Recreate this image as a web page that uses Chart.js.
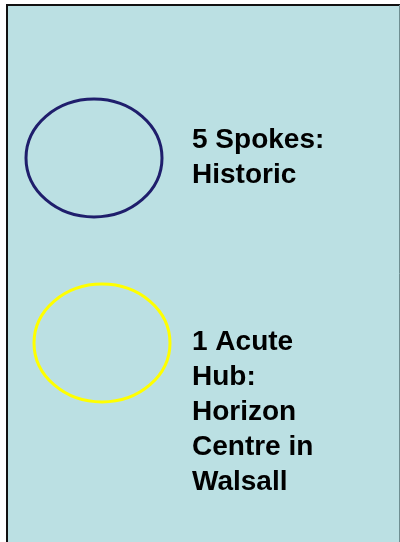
<!DOCTYPE html>
<html>
<head>
<meta charset="utf-8">
<script src="https://cdn.jsdelivr.net/npm/chart.js@4"></script>
<style>
  html, body { margin: 0; padding: 0; background: #fff; }
  #wrap { width: 400px; height: 542px; }
</style>
</head>
<body>
<div id="wrap"><canvas id="hubChart"></canvas></div>
<script>
// legend entries
const labels = [
    ['5 Spokes:', 'Historic'],
    ['1 Acute', 'Hub:', 'Horizon', 'Centre in', 'Walsall']
];
const xValues = [94, 102];
const yValues = [158, 343];
const colours = ['#1f1e6c', '#ffff00'];

// ellipse outline used as point style
const ellipse = (colour, rx, ry) => {
    const c = document.createElement('canvas');
    c.width = rx * 2 + 4;
    c.height = ry * 2 + 4;
    const g = c.getContext('2d');
    g.strokeStyle = colour;
    g.lineWidth = 3;
    g.beginPath();
    g.ellipse(c.width / 2, c.height / 2, rx, ry, 0, 0, Math.PI * 2);
    g.stroke();
    return c;
};

const textTop = [148, 350];
const lineGap = 35;

const panel = {
    id: 'panel',
    beforeDraw(chart) {
        const ctx = chart.ctx;
        ctx.save();
        ctx.fillStyle = '#fff';
        ctx.fillRect(0, 0, chart.width, chart.height);
        ctx.fillStyle = '#bbe0e3';
        ctx.fillRect(7, 5, 393, 537);
        ctx.strokeStyle = '#111';
        ctx.lineWidth = 2;
        ctx.beginPath();
        ctx.moveTo(7, 542);
        ctx.lineTo(7, 5);
        ctx.lineTo(400, 5);
        ctx.stroke();
        ctx.strokeStyle = '#6f8f92';
        ctx.lineWidth = 1;
        ctx.beginPath();
        ctx.moveTo(399.5, 5);
        ctx.lineTo(399.5, 542);
        ctx.stroke();
        ctx.restore();
    },
    afterDatasetsDraw(chart) {
        const ctx = chart.ctx;
        ctx.save();
        ctx.fillStyle = '#000';
        ctx.font = 'bold 28px "Liberation Sans", Arial, sans-serif';
        ctx.textBaseline = 'alphabetic';
        labels.forEach((lines, i) => {
            lines.forEach((t, j) => ctx.fillText(t, 192, textTop[i] + j * lineGap));
        });
        ctx.restore();
    }
};

new Chart(document.getElementById('hubChart'), {
    type: 'scatter',
    data: {
        datasets: labels.map((l, i) => ({
            label: l.join(' '),
            data: [{ x: xValues[i], y: yValues[i] }],
            pointStyle: ellipse(colours[i], 68, 59),
            pointRadius: 1,
            clip: false
        }))
    },
    options: {
        responsive: true,
        maintainAspectRatio: false,
        animation: false,
        layout: { padding: 0, autoPadding: false },
        plugins: { legend: { display: false }, tooltip: { enabled: false } },
        scales: {
            x: { type: 'linear', min: 0, max: 400, display: false },
            y: { type: 'linear', min: 0, max: 542, reverse: true, display: false }
        }
    },
    plugins: [panel]
});
</script>
</body>
</html>
